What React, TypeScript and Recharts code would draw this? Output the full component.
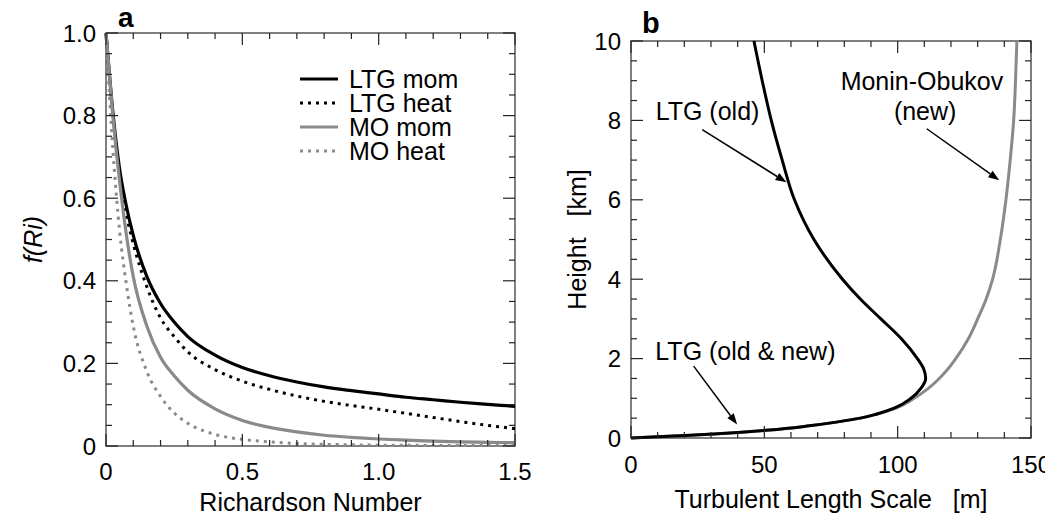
import React from "react";
import {
  LineChart,
  Line,
  XAxis,
  YAxis,
  Legend,
  Label,
  ReferenceArea,
  ReferenceLine,
  ReferenceDot,
} from "recharts";

const FONT = '"Liberation Sans", Arial, Helvetica, sans-serif';
const TICK = "#222";
const BOX = "#555";
const GRAY = "#8a8a8a";

// panel a: stability functions against Richardson number
const richardson = [0, 0.025, 0.05, 0.075, 0.1, 0.15, 0.2, 0.25, 0.3, 0.4, 0.5, 0.6, 0.7, 0.8, 0.9, 1.0, 1.1, 1.2, 1.3, 1.4, 1.5];
const ltgMom = [1, 0.81, 0.67, 0.58, 0.51, 0.41, 0.345, 0.3, 0.265, 0.22, 0.19, 0.17, 0.155, 0.143, 0.134, 0.126, 0.118, 0.112, 0.106, 0.101, 0.096];
const ltgHeat = [1, 0.8, 0.66, 0.56, 0.49, 0.385, 0.31, 0.265, 0.228, 0.185, 0.157, 0.137, 0.121, 0.108, 0.098, 0.089, 0.079, 0.069, 0.059, 0.05, 0.042];
const moMom = [1, 0.8, 0.64, 0.51, 0.41, 0.29, 0.215, 0.17, 0.135, 0.09, 0.062, 0.045, 0.034, 0.026, 0.021, 0.017, 0.014, 0.012, 0.01, 0.009, 0.008];
const moHeat = [1, 0.72, 0.52, 0.39, 0.29, 0.18, 0.12, 0.08, 0.055, 0.028, 0.016, 0.01, 0.006, 0.004, 0.003, 0.002, 0.002, 0.001, 0.001, 0.001, 0.001];

const riTicks = [0, 0.1, 0.2, 0.3, 0.4, 0.5, 0.6, 0.7, 0.8, 0.9, 1.0, 1.1, 1.2, 1.3, 1.4, 1.5];
const riLabels = [0, 0.5, 1.0, 1.5];
const fTicks = [0, 0.05, 0.1, 0.15, 0.2, 0.25, 0.3, 0.35, 0.4, 0.45, 0.5, 0.55, 0.6, 0.65, 0.7, 0.75, 0.8, 0.85, 0.9, 0.95, 1.0];
const fLabels = [0, 0.2, 0.4, 0.6, 0.8, 1.0];

// panel b: turbulent length scale profiles
const heightKm = [0, 0.05, 0.1, 0.2, 0.3, 0.4, 0.5, 0.6, 0.75, 1, 1.25, 1.5, 1.75, 2, 2.5, 3, 3.5, 4, 5, 6, 7, 8, 9, 10];
const ltgOldLen = [0, 16, 31, 52, 66, 77, 86, 92, 98.7, 105, 108.7, 110.5, 109.7, 107.4, 101.4, 93.7, 86, 79.3, 68.6, 61.3, 56.7, 52.6, 49.2, 46.1];
const moNewLen = [0, 16, 31, 52, 66, 77, 86, 92, 99.2, 106.2, 111.5, 115.6, 119, 121.8, 126.5, 130, 133.2, 135.6, 138.5, 140.6, 142.2, 143.5, 144.2, 144.7];

const lenTicks = [0, 10, 20, 30, 40, 50, 60, 70, 80, 90, 100, 110, 120, 130, 140, 150];
const lenLabels = [0, 50, 100, 150];
const hTicks = [0, 0.5, 1, 1.5, 2, 2.5, 3, 3.5, 4, 4.5, 5, 5.5, 6, 6.5, 7, 7.5, 8, 8.5, 9, 9.5, 10];
const hLabels = [0, 2, 4, 6, 8, 10];

// annotations in panel b (data units)
const notes = [
  { text: "LTG (old)", x: 28.7, y: 8.0 },
  { text: "Monin-Obukov", x: 109.1, y: 8.76 },
  { text: "(new)", x: 110.3, y: 8.0 },
  { text: "LTG (old & new)", x: 42.9, y: 1.96 },
];
const arrows = [
  { from: { x: 26.7, y: 7.77 }, to: { x: 58.3, y: 6.44 } },
  { from: { x: 110.9, y: 7.79 }, to: { x: 138.1, y: 6.49 } },
  { from: { x: 23.5, y: 1.81 }, to: { x: 39.8, y: 0.34 } },
];

const fData = richardson.map((ri, i) => ({
  ri,
  ltgMom: ltgMom[i],
  ltgHeat: ltgHeat[i],
  moMom: moMom[i],
  moHeat: moHeat[i],
}));
const ltgOldData = heightKm.map((h, i) => ({ h, len: ltgOldLen[i] }));
const moNewData = heightKm.map((h, i) => ({ h, len: moNewLen[i] }));

const fSeries = [
  { key: "ltgMom", name: "LTG mom", color: "#000", width: 3.2, dash: undefined },
  { key: "ltgHeat", name: "LTG heat", color: "#000", width: 3, dash: "3 5" },
  { key: "moMom", name: "MO mom", color: GRAY, width: 3.2, dash: undefined },
  { key: "moHeat", name: "MO heat", color: GRAY, width: 3, dash: "3 5" },
];

type TickOpts = {
  major: number[];
  fmt: (v: number) => string;
  span: number;
  gap: number;
};

// ticks point inward and are mirrored on the opposite side of the box
const bottomTick = (o: TickOpts) => (p: any) => {
  const v = p.payload.value;
  const { x, y } = p;
  const big = o.major.includes(v);
  const l = big ? 12 : 6;
  return (
    <g>
      <line x1={x} y1={y} x2={x} y2={y - l} stroke={TICK} strokeWidth={1.2} />
      <line x1={x} y1={y - o.span} x2={x} y2={y - o.span + l} stroke={TICK} strokeWidth={1.2} />
      {big && (
        <text x={x} y={y + o.gap} textAnchor="middle" fontSize={24} fill="#000" fontFamily={FONT}>
          {o.fmt(v)}
        </text>
      )}
    </g>
  );
};

const leftTick = (o: TickOpts) => (p: any) => {
  const v = p.payload.value;
  const { x, y } = p;
  const big = o.major.includes(v);
  const l = big ? 12 : 6;
  return (
    <g>
      <line x1={x} y1={y} x2={x + l} y2={y} stroke={TICK} strokeWidth={1.2} />
      <line x1={x + o.span} y1={y} x2={x + o.span - l} y2={y} stroke={TICK} strokeWidth={1.2} />
      {big && (
        <text x={x - o.gap} y={y} textAnchor="end" dominantBaseline="central" fontSize={24} fill="#000" fontFamily={FONT}>
          {o.fmt(v)}
        </text>
      )}
    </g>
  );
};

const oneDecimal = (v: number) => (v === 0 ? "0" : v.toFixed(1));
const integer = (v: number) => String(v);

const xTitle = (text: string, dy: number) => (props: any) => {
  const vb = props.viewBox;
  return (
    <text
      x={vb.x + vb.width / 2}
      y={vb.y + dy}
      textAnchor="middle"
      fontSize={25}
      fontFamily={FONT}
      fill="#000"
    >
      {text}
    </text>
  );
};

const yTitle = (text: string, dx: number, italic: boolean) => (props: any) => {
  const vb = props.viewBox;
  const x = vb.x + dx;
  const y = vb.y + vb.height / 2;
  return (
    <text
      x={x}
      y={y}
      transform={`rotate(-90, ${x}, ${y})`}
      textAnchor="middle"
      dominantBaseline="central"
      fontSize={25}
      fontStyle={italic ? "italic" : "normal"}
      fontFamily={FONT}
      fill="#000"
    >
      {text}
    </text>
  );
};

const renderLegend = () => (
  <div style={{ fontFamily: FONT, fontSize: 25, color: "#000" }}>
    {fSeries.map((s) => (
      <div key={s.key} style={{ display: "flex", alignItems: "center", height: 24, overflow: "visible" }}>
        <svg width={38} height={10}>
          <line x1={0} y1={5} x2={38} y2={5} stroke={s.color} strokeWidth={s.width} strokeDasharray={s.dash} />
        </svg>
        <span style={{ marginLeft: 11, display: "inline-block", height: 24, lineHeight: "24px" }}>{s.name}</span>
      </div>
    ))}
  </div>
);

const Arrow = (p: any) => {
  const { x1, y1, x2, y2 } = p;
  const ang = Math.atan2(y2 - y1, x2 - x1);
  const c = Math.cos(ang);
  const s = Math.sin(ang);
  const L = 11;
  const W = 4;
  const bx = x2 - L * c;
  const by = y2 - L * s;
  const pts = `${x2},${y2} ${bx - W * s},${by + W * c} ${bx + W * s},${by - W * c}`;
  return (
    <g>
      <line x1={x1} y1={y1} x2={bx} y2={by} stroke="#000" strokeWidth={1.5} />
      <polygon points={pts} fill="#000" />
    </g>
  );
};

const PanelA = () => (
  <LineChart
    width={530}
    height={527}
    data={fData}
    margin={{ top: 33, right: 15, bottom: 0, left: 0 }}
  >
    <XAxis
      dataKey="ri"
      type="number"
      domain={[0, 1.5]}
      ticks={riTicks}
      interval={0}
      height={81}
      axisLine={false}
      tickLine={false}
      tickSize={0}
      tickMargin={0}
      tick={bottomTick({ major: riLabels, fmt: oneDecimal, span: 413, gap: 34 })}
    >
      <Label content={xTitle("Richardson Number", 65)} />
    </XAxis>
    <YAxis
      type="number"
      domain={[0, 1]}
      ticks={fTicks}
      interval={0}
      width={106}
      axisLine={false}
      tickLine={false}
      tickSize={0}
      tickMargin={0}
      tick={leftTick({ major: fLabels, fmt: oneDecimal, span: 409, gap: 10 })}
    >
      <Label content={yTitle("f(Ri)", 33, true)} />
    </YAxis>
    <ReferenceArea x1={0} x2={1.5} y1={0} y2={1} fill="none" stroke={BOX} strokeWidth={1.5} ifOverflow="visible" />
    {fSeries.map((s) => (
      <Line
        key={s.key}
        dataKey={s.key}
        name={s.name}
        type="monotone"
        stroke={s.color}
        strokeWidth={s.width}
        strokeDasharray={s.dash}
        dot={false}
        activeDot={false}
        isAnimationActive={false}
      />
    ))}
    <Legend
      layout="vertical"
      align="center"
      verticalAlign="middle"
      content={renderLegend}
      wrapperStyle={{ left: 300, top: 67, width: 200 }}
    />
    <text x={118} y={27} fontSize={28} fontWeight="bold" fontFamily={FONT} fill="#000">
      a
    </text>
  </LineChart>
);

const PanelB = () => (
  <LineChart width={523} height={527} margin={{ top: 41, right: 22, bottom: 0, left: 0 }}>
    <XAxis
      dataKey="len"
      type="number"
      domain={[0, 150]}
      ticks={lenTicks}
      interval={0}
      height={89}
      axisLine={false}
      tickLine={false}
      tickSize={0}
      tickMargin={0}
      tick={bottomTick({ major: lenLabels, fmt: integer, span: 397, gap: 35 })}
    >
      <Label content={xTitle("Turbulent Length Scale\u00a0\u00a0\u00a0[m]", 70)} />
    </XAxis>
    <YAxis
      dataKey="h"
      type="number"
      domain={[0, 10]}
      ticks={hTicks}
      interval={0}
      width={101}
      axisLine={false}
      tickLine={false}
      tickSize={0}
      tickMargin={0}
      tick={leftTick({ major: hLabels, fmt: integer, span: 400, gap: 10 })}
    >
      <Label content={yTitle("Height\u00a0\u00a0\u00a0[km]", 47, false)} />
    </YAxis>
    <ReferenceArea x1={0} x2={150} y1={0} y2={10} fill="none" stroke={BOX} strokeWidth={1.5} ifOverflow="visible" />
    <Line
      data={moNewData}
      dataKey="h"
      name="Monin-Obukov (new)"
      type="monotoneY"
      stroke={GRAY}
      strokeWidth={3}
      dot={false}
      activeDot={false}
      isAnimationActive={false}
    />
    <Line
      data={ltgOldData}
      dataKey="h"
      name="LTG (old)"
      type="monotoneY"
      stroke="#000"
      strokeWidth={3}
      dot={false}
      activeDot={false}
      isAnimationActive={false}
    />
    {arrows.map((a, i) => (
      <ReferenceLine key={i} segment={[a.from, a.to]} shape={Arrow} ifOverflow="visible" />
    ))}
    {notes.map((n) => (
      <ReferenceDot
        key={n.text}
        x={n.x}
        y={n.y}
        r={0}
        ifOverflow="visible"
        shape={(p: any) => (
          <text x={p.cx} y={p.cy} textAnchor="middle" fontSize={25} fontFamily={FONT} fill="#000">
            {n.text}
          </text>
        )}
      />
    ))}
    <text x={112} y={33} fontSize={29} fontWeight="bold" fontFamily={FONT} fill="#000">
      b
    </text>
  </LineChart>
);

export default function App() {
  return (
    <div style={{ position: "relative", width: 1053, height: 527, margin: -8, background: "#fff", fontFamily: FONT }}>
      <style>{`.recharts-surface { overflow: visible; }`}</style>
      <div style={{ position: "absolute", left: 0, top: 0 }}>
        <PanelA />
      </div>
      <div style={{ position: "absolute", left: 530, top: 0 }}>
        <PanelB />
      </div>
    </div>
  );
}
